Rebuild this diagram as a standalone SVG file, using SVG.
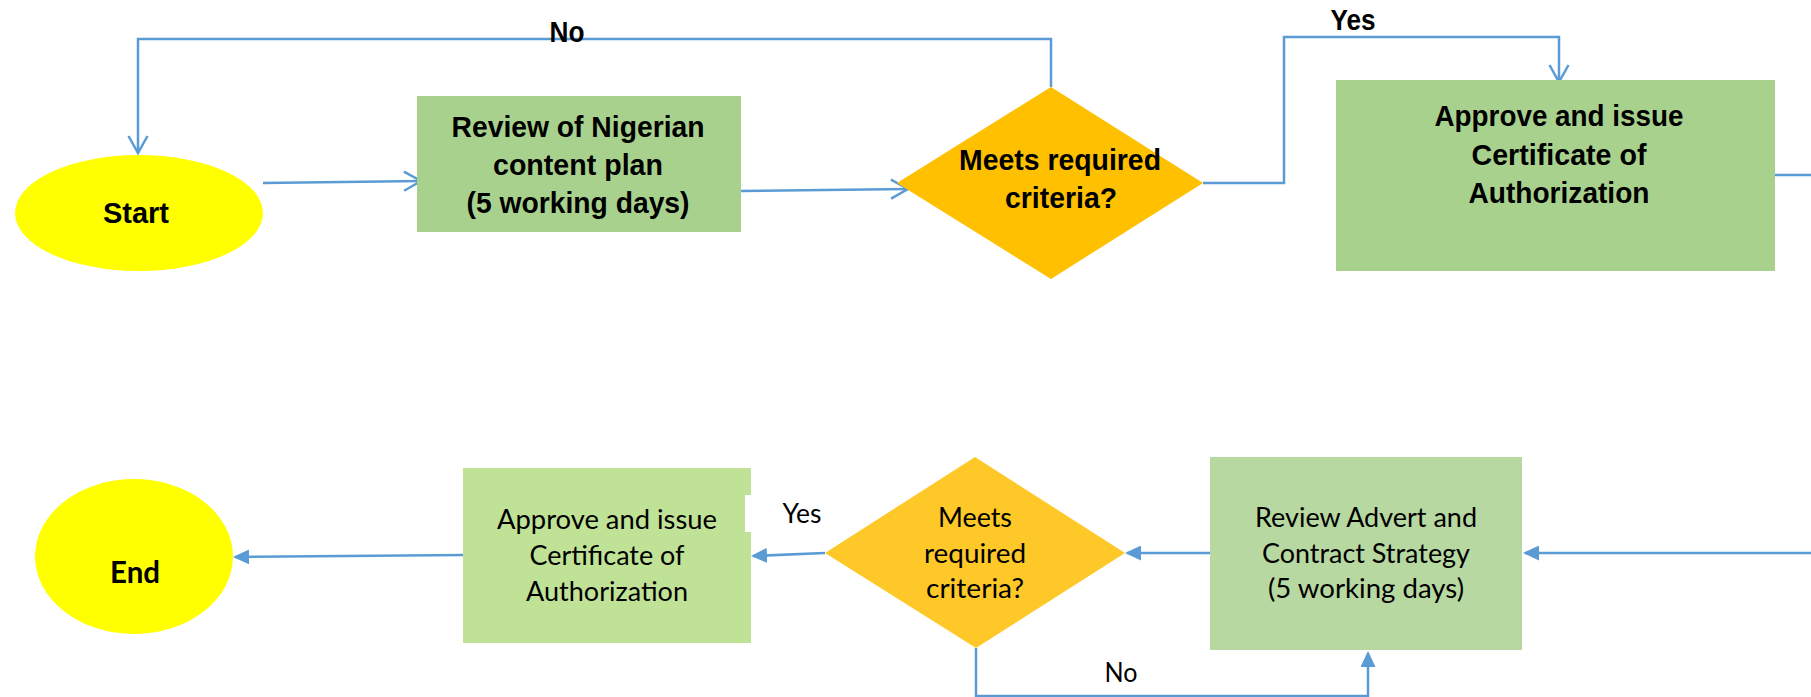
<svg xmlns="http://www.w3.org/2000/svg" width="1811" height="697" viewBox="0 0 1811 697">
<style>
.bg{fill:#FFFFFF}
.term{fill:#FFFF00}
.boxA{fill:#A9D18E}
.boxB{fill:#C0E296}
.boxC{fill:#B8D8A2}
.dia1{fill:#FFC000}
.dia2{fill:#FFC829}
.conn{fill:none;stroke:#5B9BD5;stroke-width:2.5}
.tb{font-family:"Liberation Sans",Arial,sans-serif;font-weight:bold;font-size:30px;fill:#000000;text-anchor:middle}
.tr{font-family:Lato,"Liberation Sans",sans-serif;font-size:27px;fill:#000000;text-anchor:middle}
.trb{font-family:Lato,"Liberation Sans",sans-serif;font-weight:bold;font-size:30px;fill:#000000;text-anchor:middle}
</style>
<defs>
<marker id="open" viewBox="0 0 20 22" refX="18" refY="11" markerWidth="20" markerHeight="22" markerUnits="userSpaceOnUse" orient="auto">
<path d="M1,1.5 L18,11 L1,20.5" fill="none" stroke="#5B9BD5" stroke-width="2.5"/>
</marker>
<marker id="tri" viewBox="0 0 16 15" refX="14" refY="7.5" markerWidth="16" markerHeight="15" markerUnits="userSpaceOnUse" orient="auto">
<path d="M0,0 L16,7.5 L0,15 Z" fill="#5B9BD5"/>
</marker>
</defs>
<rect class="bg" x="0" y="0" width="1811" height="697"/>

<g id="connectors">
<path class="conn" d="M1051,87 L1051,39 L138,39 L138,153" marker-end="url(#open)"/>
<path class="conn" d="M263,183 L421,181" marker-end="url(#open)"/>
<path class="conn" d="M741,191 L908,189" marker-end="url(#open)"/>
<path class="conn" d="M1203,183 L1284,183 L1284,37 L1559,37 L1559,82" marker-end="url(#open)"/>
<path class="conn" d="M1775,175 L1811,175"/>
<path class="conn" d="M1811,553 L1525,553" marker-end="url(#tri)"/>
<path class="conn" d="M1210,553 L1127,553" marker-end="url(#tri)"/>
<path class="conn" d="M825,553 L753,556" marker-end="url(#tri)"/>
<path class="conn" d="M463,555 L235,557" marker-end="url(#tri)"/>
<path class="conn" d="M976,648 L976,696 L1368,696 L1368,653" marker-end="url(#tri)"/>
</g>

<g id="start">
<ellipse class="term" cx="139" cy="213" rx="124" ry="58"/>
<text class="tb" x="136" y="223" textLength="66" lengthAdjust="spacingAndGlyphs">Start</text>
</g>

<g id="review-plan">
<rect class="boxA" x="417" y="96" width="324" height="136"/>
<text class="tb" x="578" y="137" textLength="253" lengthAdjust="spacingAndGlyphs">Review of Nigerian</text>
<text class="tb" x="578" y="175" textLength="170" lengthAdjust="spacingAndGlyphs">content plan</text>
<text class="tb" x="578" y="213" textLength="223" lengthAdjust="spacingAndGlyphs">(5 working days)</text>
</g>

<g id="decision1">
<polygon class="dia1" points="1051,87 1203,183 1051,279 897,183"/>
<text class="tb" x="1060" y="170" textLength="202" lengthAdjust="spacingAndGlyphs">Meets required</text>
<text class="tb" x="1061" y="208" textLength="112" lengthAdjust="spacingAndGlyphs">criteria?</text>
</g>

<g id="approve1">
<rect class="boxA" x="1336" y="80" width="439" height="191"/>
<text class="tb" x="1559" y="126" textLength="249" lengthAdjust="spacingAndGlyphs">Approve and issue</text>
<text class="tb" x="1559" y="165" textLength="175" lengthAdjust="spacingAndGlyphs">Certificate of</text>
<text class="tb" x="1559" y="203" textLength="181" lengthAdjust="spacingAndGlyphs">Authorization</text>
</g>

<g id="label-no-top">
<text class="tb" x="567" y="42" textLength="35" lengthAdjust="spacingAndGlyphs">No</text>
</g>
<g id="label-yes-top">
<text class="tb" x="1353" y="30" textLength="45" lengthAdjust="spacingAndGlyphs">Yes</text>
</g>

<g id="review-advert">
<rect class="boxC" x="1210" y="457" width="312" height="193"/>
<text class="tr" x="1366" y="527" textLength="222" lengthAdjust="spacingAndGlyphs">Review Advert and</text>
<text class="tr" x="1366" y="563" textLength="208" lengthAdjust="spacingAndGlyphs">Contract Strategy</text>
<text class="tr" x="1366" y="598" textLength="196" lengthAdjust="spacingAndGlyphs">(5 working days)</text>
</g>

<g id="decision2">
<polygon class="dia2" points="975,457 1125,553 976,648 825,553"/>
<text class="tr" x="975" y="527" textLength="74" lengthAdjust="spacingAndGlyphs">Meets</text>
<text class="tr" x="975" y="563" textLength="102" lengthAdjust="spacingAndGlyphs">required</text>
<text class="tr" x="975" y="598" textLength="98" lengthAdjust="spacingAndGlyphs">criteria?</text>
</g>

<g id="approve2">
<rect class="boxB" x="463" y="468" width="288" height="175"/>
<text class="tr" x="607" y="529" textLength="220" lengthAdjust="spacingAndGlyphs">Approve and issue</text>
<text class="tr" x="607" y="565" textLength="155" lengthAdjust="spacingAndGlyphs">Certificate of</text>
<text class="tr" x="607" y="601" textLength="162" lengthAdjust="spacingAndGlyphs">Authorization</text>
</g>

<g id="label-yes-bottom">
<rect class="bg" x="745" y="495" width="85" height="37"/>
<text class="tr" x="802" y="523" textLength="39" lengthAdjust="spacingAndGlyphs">Yes</text>
</g>
<g id="label-no-bottom">
<text class="tr" x="1121" y="682" textLength="33" lengthAdjust="spacingAndGlyphs">No</text>
</g>

<g id="end">
<ellipse class="term" cx="134" cy="556.5" rx="99" ry="77.5"/>
<text class="trb" x="135" y="583" textLength="50" lengthAdjust="spacingAndGlyphs">End</text>
</g>
</svg>
